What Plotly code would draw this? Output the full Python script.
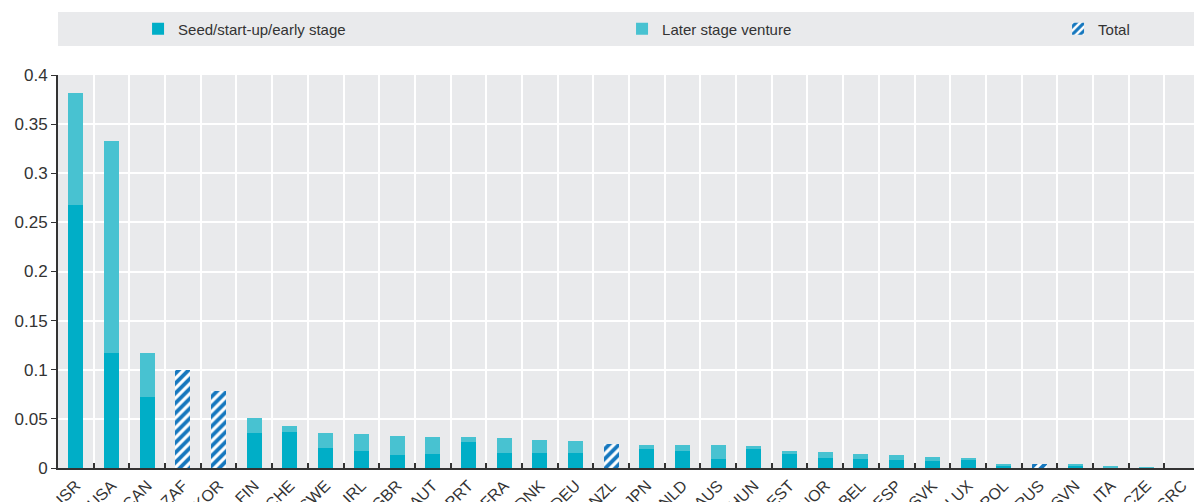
import plotly.graph_objects as go

countries = ["ISR", "USA", "CAN", "ZAF", "KOR", "FIN", "CHE", "SWE", "IRL", "GBR", "AUT", "PRT",
             "FRA", "DNK", "DEU", "NZL", "JPN", "NLD", "AUS", "HUN", "EST", "NOR", "BEL", "ESP",
             "SVK", "LUX", "POL", "RUS", "SVN", "ITA", "CZE", "GRC"]

seed = [0.268, 0.117, 0.072, None, None, 0.036, 0.037, 0.020, 0.017, 0.013, 0.014, 0.026,
        0.015, 0.015, 0.015, None, 0.019, 0.017, 0.009, 0.019, 0.015, 0.010, 0.009, 0.008,
        0.007, 0.009, 0.003, None, 0.0025, 0.0005, 0.0003, 0.0]

later = [0.114, 0.216, 0.045, None, None, 0.015, 0.006, 0.016, 0.018, 0.020, 0.018, 0.006,
         0.016, 0.014, 0.012, None, 0.004, 0.006, 0.014, 0.003, 0.002, 0.006, 0.005, 0.005,
         0.004, 0.001, 0.0015, None, 0.0008, 0.002, 0.0007, 0.0]

total = [None, None, None, 0.100, 0.078, None, None, None, None, None, None, None,
         None, None, None, 0.024, None, None, None, None, None, None, None, None,
         None, None, None, 0.004, None, None, None, None]

FONT = "Liberation Sans Narrow, Arial Narrow, Liberation Sans, Arial, sans-serif"
BW = 0.42

fig = go.Figure()
fig.add_trace(go.Bar(x=countries, y=seed, name="Seed/start-up/early stage",
                     marker=dict(color="#00AEC7", line=dict(width=0)), width=BW, legend="legend"))
fig.add_trace(go.Bar(x=countries, y=later, name="Later stage venture",
                     marker=dict(color="#48C2D1", line=dict(width=0)), width=BW, legend="legend2"))
fig.add_trace(go.Bar(x=countries, y=total, name="Total",
                     marker=dict(color="white", line=dict(width=0),
                                 pattern=dict(shape="/", fillmode="overlay", fgcolor="#1577BE",
                                              fgopacity=1, size=7, solidity=0.55)),
                     width=BW, legend="legend3"))

leg_common = dict(orientation="h", yanchor="middle", y=1.117, xanchor="left",
                  bgcolor="rgba(0,0,0,0)", font=dict(family=FONT, size=15, color="#333333"))

# the page body has an 8px margin, so the figure is sized to fit the window
fig.update_layout(
    width=1194, height=494,
    margin=dict(l=50, r=2, t=67, b=34),
    paper_bgcolor="white",
    plot_bgcolor="#E9EAEC",
    barmode="stack",
    showlegend=True,
    font=dict(family=FONT, size=16, color="#333333"),
    legend=dict(x=0.0701, **leg_common),
    legend2=dict(x=0.4939, **leg_common),
    legend3=dict(x=0.8757, **leg_common),
    shapes=[dict(type="rect", xref="paper", yref="paper", x0=0, x1=1.002, y0=1.074, y1=1.160,
                 fillcolor="#E9EAEC", line=dict(width=0), layer="below")],
    xaxis=dict(type="category", tickson="boundaries", ticks="inside", ticklen=5,
               tickcolor="#333333", tickwidth=1.5, showline=True, linecolor="#333333",
               linewidth=2, showgrid=True, gridcolor="white", gridwidth=1.5,
               tickangle=-45, automargin=False, range=[-0.5, 31.5],
               tickfont=dict(family=FONT, size=16, color="#333333")),
    yaxis=dict(range=[0, 0.4], dtick=0.05, tick0=0, ticks="outside", ticklen=5,
               tickcolor="#333333", showline=True, linecolor="#333333", linewidth=2,
               showgrid=True, gridcolor="white", gridwidth=1.5, zeroline=False,
               automargin=False, tickfont=dict(family=FONT, size=17, color="#333333")),
)

fig.write_html("out.html")
